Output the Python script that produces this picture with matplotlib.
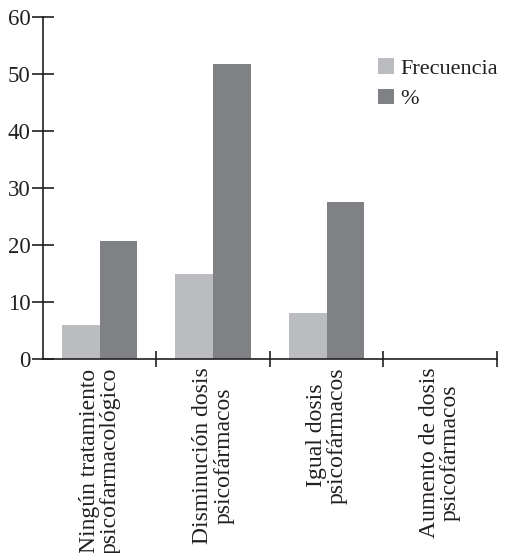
import matplotlib
matplotlib.use("Agg")
import matplotlib.pyplot as plt
import numpy as np

serif = 'Liberation Serif'
plt.rcParams['font.family'] = serif
plt.rcParams['font.size'] = 17

categorias = ['Ningún tratamiento\npsicofarmacológico',
              'Disminución dosis\npsicofármacos',
              'Igual dosis\npsicofármacos',
              'Aumento de dosis\npsicofármacos']
frecuencia = [6, 15, 8, 0]
porcentaje = [20.7, 51.7, 27.6, 0]
y_ticks = [0, 10, 20, 30, 40, 50, 60]

ink = '#231f20'
c_frec = '#bbbcc0'
c_pct = '#808185'

fig = plt.figure(figsize=(5.08, 5.53), dpi=100)
ax = fig.add_axes([0.0846, 0.3508, 0.8934, 0.6184])

x = np.arange(len(categorias))
w = 0.333
ax.bar(x - w / 2, frecuencia, w, color=c_frec, label='Frecuencia')
ax.bar(x + w / 2, porcentaje, w, color=c_pct, label='%')

ax.set_xlim(-0.5, len(categorias) - 0.5)
ax.set_ylim(0, 60)
ax.set_yticks(y_ticks)
ax.set_yticklabels([str(t) for t in y_ticks], fontfamily=serif,
                   fontsize=16.5, color=ink)

ax.set_xticks(x)
ax.set_xticklabels(categorias, rotation=90, ha='center', va='top',
                   multialignment='center', color=ink, linespacing=1.0,
                   fontfamily=serif, fontsize=17)
ax.set_xticks(x + 0.5, minor=True)
ax.tick_params(axis='x', which='major', length=0, pad=6)
ax.tick_params(axis='x', which='minor', direction='inout', length=12,
               width=1.2, color=ink)
ax.tick_params(axis='y', direction='inout', length=16, width=1.2,
               color=ink, pad=1)

for s in ['top', 'right']:
    ax.spines[s].set_visible(False)
for s in ['left', 'bottom']:
    ax.spines[s].set_color(ink)
    ax.spines[s].set_linewidth(1.2)

fig.legend(loc='upper left', bbox_to_anchor=(0.745, 0.895),
           frameon=False, handlelength=0.7, handleheight=0.7,
           handletextpad=0.3, labelspacing=0.45, borderpad=0,
           borderaxespad=0, labelcolor=ink,
           prop={'family': serif, 'size': 16})

fig.savefig('out.png', dpi=100)
